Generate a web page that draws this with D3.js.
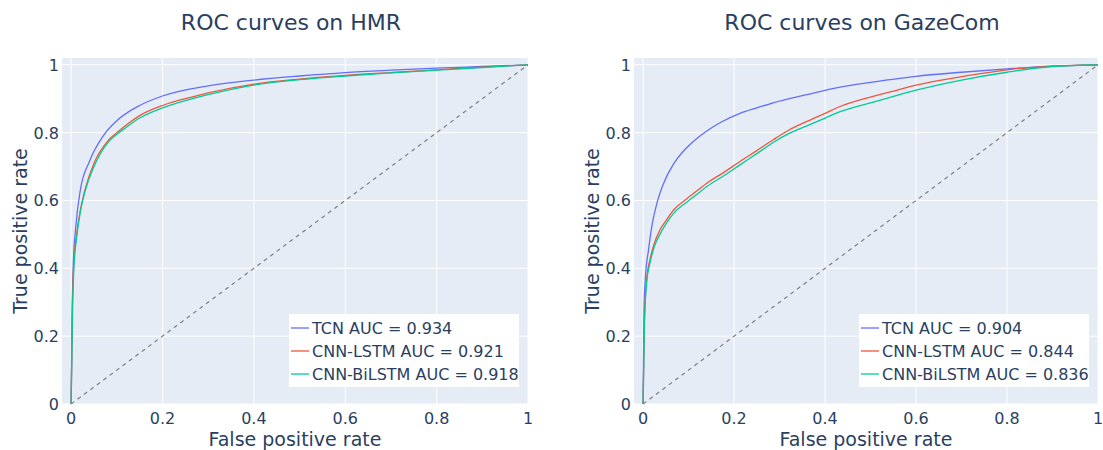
<!DOCTYPE html>
<html>
<head>
<meta charset="utf-8">
<script src="https://cdn.jsdelivr.net/npm/d3@7"></script>
<style>
  body { margin: 0; background: #fff; }
  svg text { font-family: "DejaVu Sans", sans-serif; fill: #2a3f5f; }
</style>
</head>
<body>
<div id="chart"></div>
<script>
// ---- data (fpr, tpr pairs) ----
var ticks = [0, 0.2, 0.4, 0.6, 0.8, 1];
var tickLabels = ["0", "0.2", "0.4", "0.6", "0.8", "1"];
var seriesNames = ["TCN", "CNN-LSTM", "CNN-BiLSTM"];
var colors = ["#636efa", "#ef553b", "#00cc96"];

var hmrTitle = "ROC curves on HMR";
var hmrAuc = [0.934, 0.921, 0.918];
var hmrTcnFpr = [0, 0.002, 0.005, 0.01, 0.02, 0.04, 0.07, 0.1, 0.15, 0.2, 0.3, 0.4, 0.5, 0.6, 0.7, 0.8, 0.9, 1];
var hmrTcnTpr = [0, 0.25, 0.42, 0.52, 0.63, 0.715, 0.79, 0.835, 0.88, 0.908, 0.938, 0.955, 0.967, 0.977, 0.984, 0.99, 0.995, 1];
var hmrLstmFpr = [0, 0.003, 0.006, 0.012, 0.02, 0.03, 0.05, 0.08, 0.1, 0.12, 0.15, 0.2, 0.27, 0.3, 0.4, 0.5, 0.6, 0.7, 0.8, 0.9, 1];
var hmrLstmTpr = [0, 0.3, 0.42, 0.5, 0.57, 0.63, 0.71, 0.775, 0.8, 0.822, 0.85, 0.88, 0.907, 0.917, 0.943, 0.958, 0.969, 0.977, 0.985, 0.993, 1];
var hmrBiFpr = [0, 0.003, 0.006, 0.012, 0.02, 0.03, 0.05, 0.08, 0.1, 0.12, 0.15, 0.2, 0.27, 0.3, 0.4, 0.5, 0.6, 0.7, 0.8, 0.9, 1];
var hmrBiTpr = [0, 0.28, 0.4, 0.49, 0.565, 0.625, 0.7, 0.77, 0.795, 0.815, 0.843, 0.873, 0.902, 0.912, 0.94, 0.956, 0.967, 0.976, 0.984, 0.992, 1];

var gazeTitle = "ROC curves on GazeCom";
var gazeAuc = [0.904, 0.844, 0.836];
var gazeTcnFpr = [0, 0.002, 0.005, 0.012, 0.02, 0.03, 0.045, 0.067, 0.085, 0.103, 0.14, 0.17, 0.213, 0.25, 0.286, 0.36, 0.433, 0.543, 0.6, 0.7, 0.8, 0.9, 1];
var gazeTcnTpr = [0, 0.28, 0.37, 0.455, 0.53, 0.59, 0.65, 0.708, 0.74, 0.765, 0.805, 0.83, 0.857, 0.873, 0.888, 0.912, 0.934, 0.956, 0.966, 0.978, 0.988, 0.996, 1];
var gazeLstmFpr = [0, 0.003, 0.008, 0.015, 0.025, 0.037, 0.05, 0.067, 0.096, 0.12, 0.14, 0.18, 0.213, 0.25, 0.286, 0.32, 0.36, 0.4, 0.433, 0.5, 0.543, 0.6, 0.7, 0.8, 0.9, 1];
var gazeLstmTpr = [0, 0.25, 0.37, 0.425, 0.475, 0.513, 0.54, 0.572, 0.605, 0.63, 0.651, 0.685, 0.715, 0.747, 0.779, 0.807, 0.833, 0.857, 0.877, 0.905, 0.92, 0.94, 0.965, 0.985, 0.996, 1];
var gazeBiFpr = [0, 0.003, 0.008, 0.015, 0.025, 0.037, 0.05, 0.067, 0.096, 0.12, 0.14, 0.18, 0.213, 0.25, 0.286, 0.32, 0.36, 0.4, 0.433, 0.5, 0.543, 0.6, 0.7, 0.8, 0.9, 1];
var gazeBiTpr = [0, 0.24, 0.36, 0.415, 0.465, 0.5, 0.53, 0.562, 0.595, 0.62, 0.641, 0.675, 0.705, 0.738, 0.771, 0.797, 0.82, 0.843, 0.862, 0.888, 0.904, 0.925, 0.955, 0.978, 0.995, 1];

var width = 1103, height = 450;

var svg = d3.select("#chart").append("svg")
    .attr("width", width)
    .attr("height", height);

function zip(xs, ys) {
    return xs.map(function(x, i) { return [x, ys[i]]; });
}

function makePanel(box, title, curves, auc) {
    var x = d3.scaleLinear().domain([-0.02, 1]).range([box.left, box.right]);
    var y = d3.scaleLinear().domain([0, 1.02]).range([box.bottom, box.top]);

    var g = svg.append("g");

    g.append("rect")
        .attr("x", box.left).attr("y", box.top)
        .attr("width", box.right - box.left)
        .attr("height", box.bottom - box.top)
        .attr("fill", "#e5ecf6");

    // grid
    g.selectAll(".vgrid").data(ticks).enter().append("line")
        .attr("x1", function(d) { return x(d); })
        .attr("x2", function(d) { return x(d); })
        .attr("y1", box.top).attr("y2", box.bottom)
        .attr("stroke", "#fff").attr("stroke-width", 1);
    g.selectAll(".hgrid").data(ticks).enter().append("line")
        .attr("y1", function(d) { return y(d); })
        .attr("y2", function(d) { return y(d); })
        .attr("x1", box.left).attr("x2", box.right)
        .attr("stroke", "#fff").attr("stroke-width", 1);

    // tick labels
    g.selectAll(".xt").data(ticks).enter().append("text")
        .attr("x", function(d) { return x(d); })
        .attr("y", box.bottom + 20)
        .attr("text-anchor", "middle")
        .style("font-size", "16px")
        .text(function(d, i) { return tickLabels[i]; });
    g.selectAll(".yt").data(ticks).enter().append("text")
        .attr("x", box.left - 3)
        .attr("y", function(d) { return y(d) + 6; })
        .attr("text-anchor", "end")
        .style("font-size", "16px")
        .text(function(d, i) { return tickLabels[i]; });

    // diagonal
    g.append("line")
        .attr("x1", x(0)).attr("y1", y(0))
        .attr("x2", x(1)).attr("y2", y(1))
        .attr("stroke", "#7f7f7f")
        .attr("stroke-width", 1.2)
        .attr("stroke-dasharray", "4,4");

    var line = d3.line()
        .x(function(d) { return x(d[0]); })
        .y(function(d) { return y(d[1]); })
        .curve(d3.curveMonotoneX);

    curves.forEach(function(c, i) {
        g.append("path")
            .datum(c)
            .attr("d", line)
            .attr("fill", "none")
            .attr("stroke", colors[i])
            .attr("stroke-width", 1.3);
    });

    // titles
    g.append("text")
        .attr("x", (box.left + box.right) / 2 - 4)
        .attr("y", 30)
        .attr("text-anchor", "middle")
        .style("font-size", "22px")
        .text(title);
    g.append("text")
        .attr("x", (box.left + box.right) / 2)
        .attr("y", 446)
        .attr("text-anchor", "middle")
        .style("font-size", "19px")
        .text("False positive rate");
    g.append("text")
        .attr("transform", "translate(" + (box.left - 35) + "," + ((box.top + box.bottom) / 2) + ") rotate(-90)")
        .attr("text-anchor", "middle")
        .style("font-size", "19px")
        .text("True positive rate");

    // legend
    var lg = g.append("g")
        .attr("transform", "translate(" + (box.right - 239) + ",314)");
    lg.append("rect")
        .attr("width", 230).attr("height", 73)
        .attr("fill", "#fff");
    seriesNames.forEach(function(name, i) {
        var row = lg.append("g").attr("transform", "translate(0," + (14 + i * 23) + ")");
        row.append("line")
            .attr("x1", 2).attr("x2", 20)
            .attr("y1", 0).attr("y2", 0)
            .attr("stroke", colors[i]).attr("stroke-width", 1.3);
        row.append("text")
            .attr("x", 23).attr("y", 6)
            .style("font-size", "16px")
            .text(name + " AUC = " + auc[i]);
    });
}

makePanel({left: 62, right: 528, top: 58, bottom: 404}, hmrTitle,
    [zip(hmrTcnFpr, hmrTcnTpr), zip(hmrLstmFpr, hmrLstmTpr), zip(hmrBiFpr, hmrBiTpr)], hmrAuc);
makePanel({left: 634, right: 1098, top: 58, bottom: 404}, gazeTitle,
    [zip(gazeTcnFpr, gazeTcnTpr), zip(gazeLstmFpr, gazeLstmTpr), zip(gazeBiFpr, gazeBiTpr)], gazeAuc);
</script>
</body>
</html>
